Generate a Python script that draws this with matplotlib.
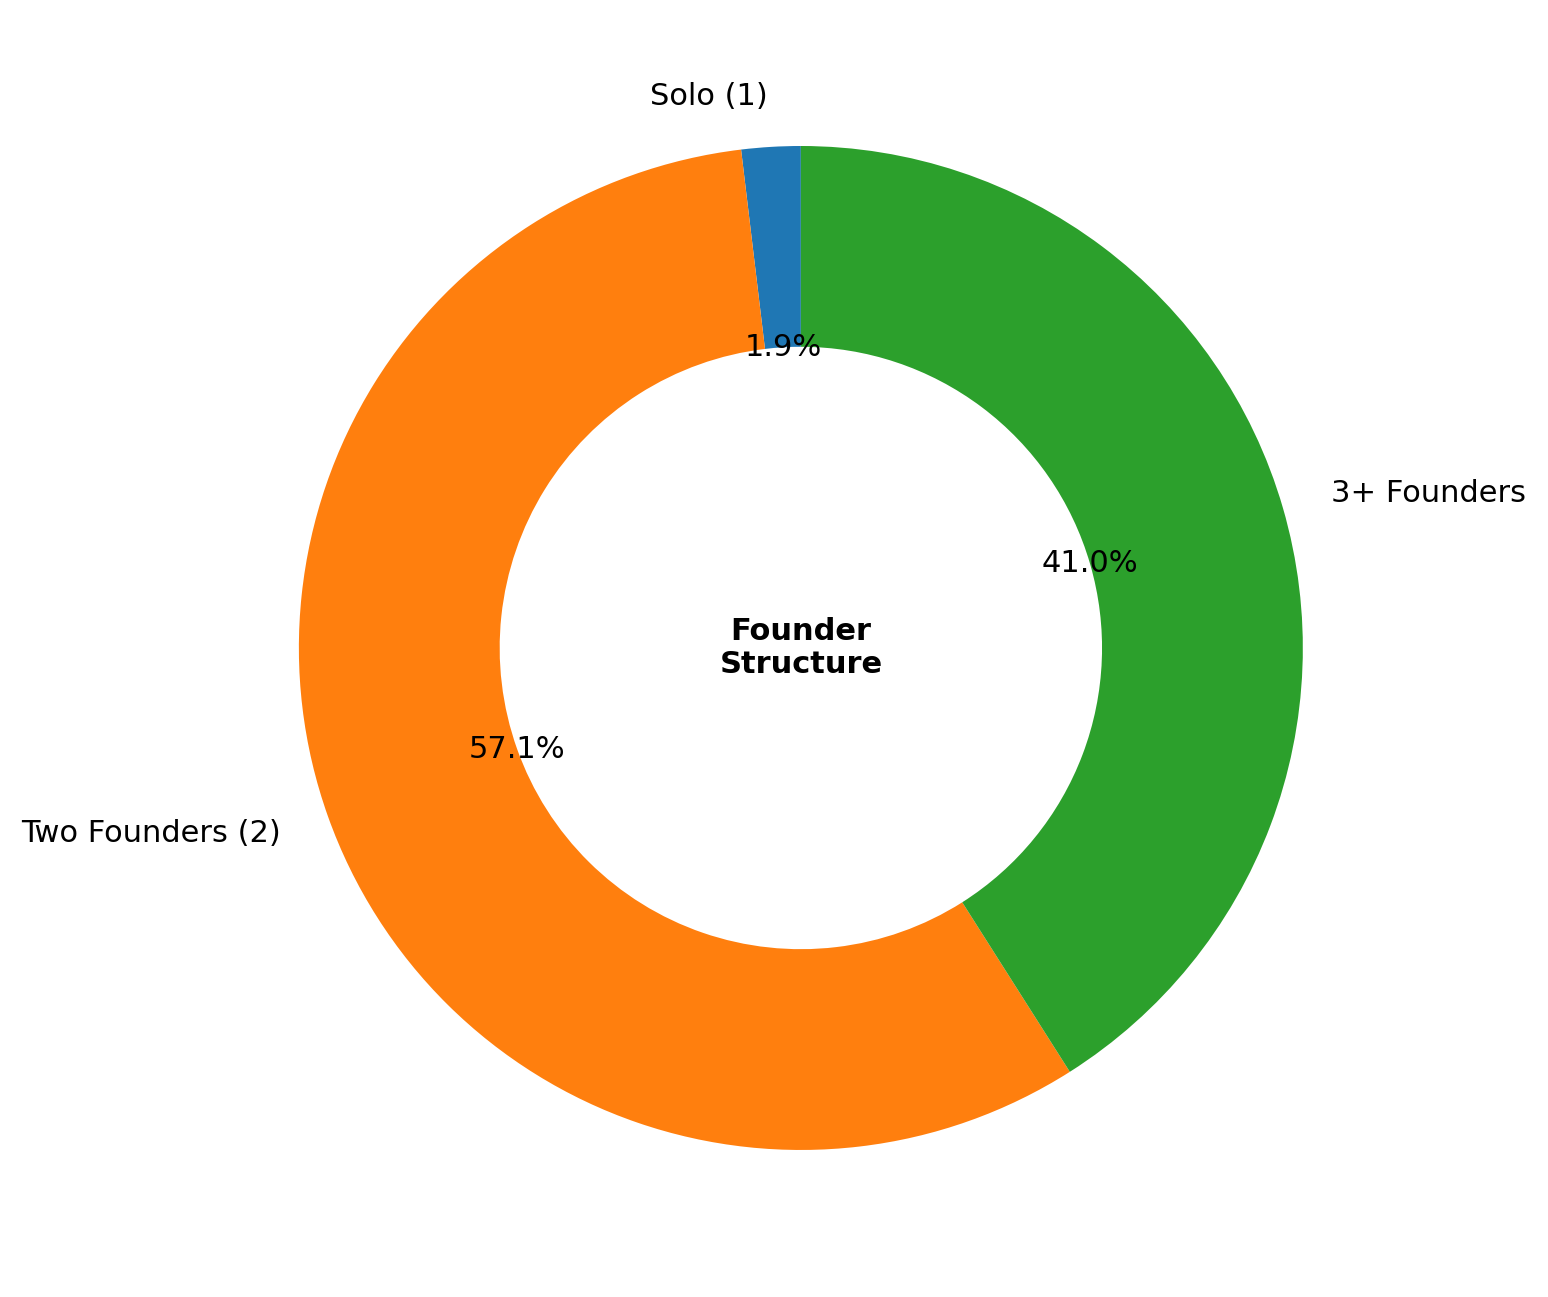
import matplotlib

matplotlib.use("Agg")
import matplotlib.pyplot as plt

# founder structure shares (percent)
categories = ["Solo (1)", "Two Founders (2)", "3+ Founders"]
shares = [1.9, 57.1, 41.0]
colors = ["#1f77b4", "#ff7f0e", "#2ca02c"]

fig = plt.figure(figsize=(15.48, 12.97), dpi=100)
ax = fig.add_axes([0.112, 0.0166, 0.8107, 0.9676])

ax.pie(
    shares,
    labels=categories,
    colors=colors,
    autopct="%1.1f%%",
    startangle=90,
    wedgeprops=dict(width=0.4),
    textprops=dict(fontsize=22),
)
ax.text(0, 0, "Founder\nStructure", ha="center", va="center",
        fontsize=22, fontweight="bold")
ax.set_aspect("equal")

fig.savefig("out.png", dpi=100)
plt.close(fig)
